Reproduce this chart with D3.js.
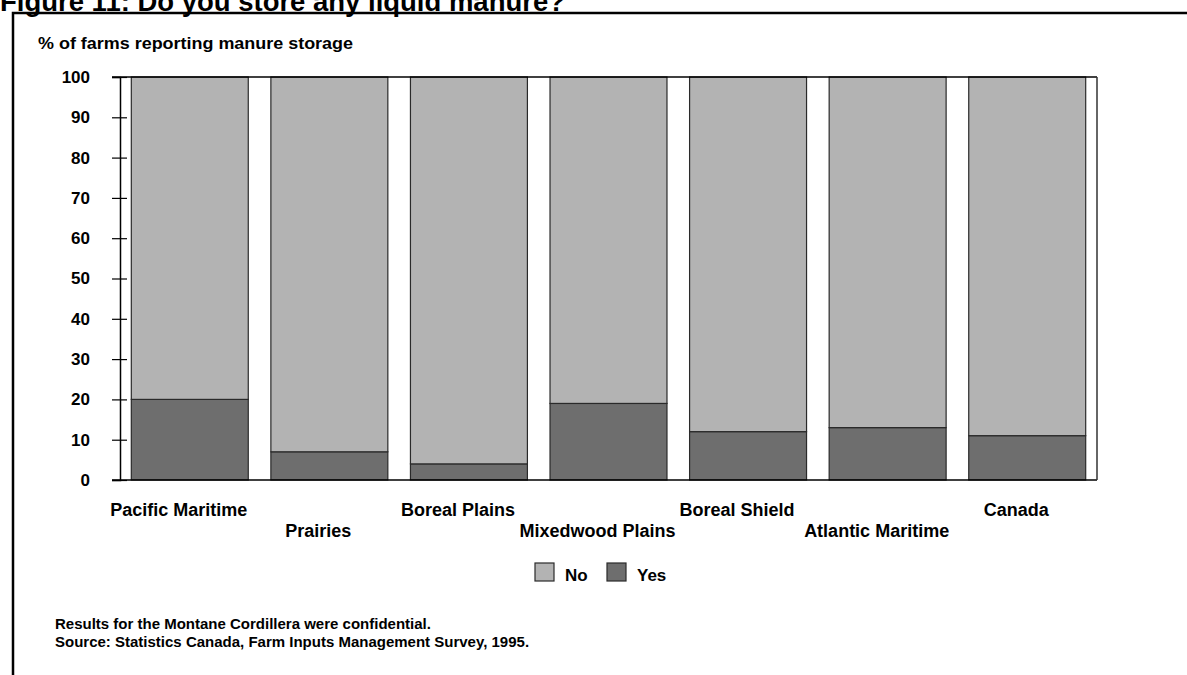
<!doctype html>
<html>
<head>
<meta charset="UTF-8">
<title>Figure 11</title>
<script src="https://d3js.org/d3.v7.min.js"></script>
<style>
  body { margin: 0; background: #fff; }
  text { font-family: "Liberation Sans", Arial, sans-serif; font-weight: bold; fill: #000; }
</style>
</head>
<body>
<svg id="chart" width="1187" height="675"></svg>
<script>
// data
var regions = ["Pacific Maritime", "Prairies", "Boreal Plains", "Mixedwood Plains",
               "Boreal Shield", "Atlantic Maritime", "Canada"];
var yesValues = [20, 7, 4, 19, 12, 13, 11];
var noValues = [80, 93, 96, 81, 88, 87, 89];
var yTicks = [0, 10, 20, 30, 40, 50, 60, 70, 80, 90, 100];
var seriesNames = ["No", "Yes"];
var seriesColors = { No: "#b3b3b3", Yes: "#6e6e6e" };

var rows = regions.map(function (r, i) {
    return { region: r, Yes: yesValues[i], No: noValues[i] };
});

var svg = d3.select("#chart");

// figure title (cut off at top) and frame
svg.append("text")
    .attr("x", 0)
    .attr("y", 11)
    .attr("textLength", 565)
    .attr("lengthAdjust", "spacingAndGlyphs")
    .style("font-size", "27px")
    .text("Figure 11: Do you store any liquid manure?");

svg.append("path")
    .attr("d", "M13,680 L13,13 L1190,13")
    .attr("fill", "none")
    .attr("stroke", "#000")
    .attr("stroke-width", 2.5);

var plotLeft = 120, plotRight = 1097, plotTop = 77, plotBottom = 480;

var x = d3.scaleBand().domain(regions).range([plotLeft, plotRight]).paddingInner(0.162).paddingOuter(0.081);
var y = d3.scaleLinear().domain([0, 100]).range([plotBottom, plotTop]);

svg.append("text")
    .attr("x", 38)
    .attr("y", 49)
    .attr("textLength", 315)
    .attr("lengthAdjust", "spacingAndGlyphs")
    .style("font-size", "16px")
    .text("% of farms reporting manure storage");

// stacked bars, Yes at bottom
var stack = d3.stack().keys(["Yes", "No"]);
var layers = stack(rows);

svg.selectAll(".layer")
    .data(layers)
    .enter().append("g")
    .attr("class", "layer")
    .attr("fill", function (d) { return seriesColors[d.key]; })
    .selectAll("rect")
    .data(function (d) { return d; })
    .enter().append("rect")
    .attr("x", function (d) { return x(d.data.region); })
    .attr("width", x.bandwidth())
    .attr("y", function (d) { return y(d[1]); })
    .attr("height", function (d) { return y(d[0]) - y(d[1]); })
    .attr("stroke", "#2a2a2a")
    .attr("stroke-width", 1.2);

// plot box
svg.append("line").attr("x1", 112).attr("x2", plotRight).attr("y1", plotTop).attr("y2", plotTop)
    .attr("stroke", "#000").attr("stroke-width", 1.5);
svg.append("line").attr("x1", 112).attr("x2", plotRight).attr("y1", plotBottom).attr("y2", plotBottom)
    .attr("stroke", "#000").attr("stroke-width", 1.5);
svg.append("line").attr("x1", plotRight).attr("x2", plotRight).attr("y1", plotTop).attr("y2", plotBottom)
    .attr("stroke", "#333").attr("stroke-width", 1.5);

// y axis with ticks crossing the line
var yAxis = d3.axisLeft(y).tickValues(yTicks).tickSize(8).tickPadding(22);
var gy = svg.append("g")
    .attr("transform", "translate(" + plotLeft + ",0)")
    .call(yAxis);
gy.select(".domain").attr("stroke", "#000").attr("stroke-width", 1.5);
gy.selectAll(".tick line").attr("x2", -8).attr("x1", 7).attr("stroke", "#000").attr("stroke-width", 1.2);
gy.selectAll(".tick text")
    .attr("x", -30)
    .style("font-size", "17px")
    .style("font-family", "'Liberation Sans', Arial, sans-serif")
    .style("font-weight", "bold")
    .attr("fill", "#000");

// staggered category labels
svg.selectAll(".xlabel")
    .data(regions)
    .enter().append("text")
    .attr("class", "xlabel")
    .attr("text-anchor", "middle")
    .attr("x", function (d) { return x(d) + x.bandwidth() / 2 - 11; })
    .attr("y", function (d, i) { return i % 2 === 0 ? 516 : 537; })
    .style("font-size", "18px")
    .text(function (d) { return d; });

// legend
var legendX = [535, 607];
var lg = svg.selectAll(".legend")
    .data(seriesNames)
    .enter().append("g")
    .attr("class", "legend")
    .attr("transform", function (d, i) { return "translate(" + legendX[i] + ",563)"; });
lg.append("rect")
    .attr("width", 19)
    .attr("height", 18)
    .attr("fill", function (d) { return seriesColors[d]; })
    .attr("stroke", "#2a2a2a")
    .attr("stroke-width", 1.2);
lg.append("text")
    .attr("x", 30)
    .attr("y", 18)
    .style("font-size", "17px")
    .text(function (d) { return d; });

// footnotes
var notes = ["Results for the Montane Cordillera were confidential.",
             "Source: Statistics Canada, Farm Inputs Management Survey, 1995."];
svg.selectAll(".note")
    .data(notes)
    .enter().append("text")
    .attr("class", "note")
    .attr("x", 55)
    .attr("y", function (d, i) { return 629 + i * 17.5; })
    .style("font-size", "15px")
    .text(function (d) { return d; });
</script>
</body>
</html>
